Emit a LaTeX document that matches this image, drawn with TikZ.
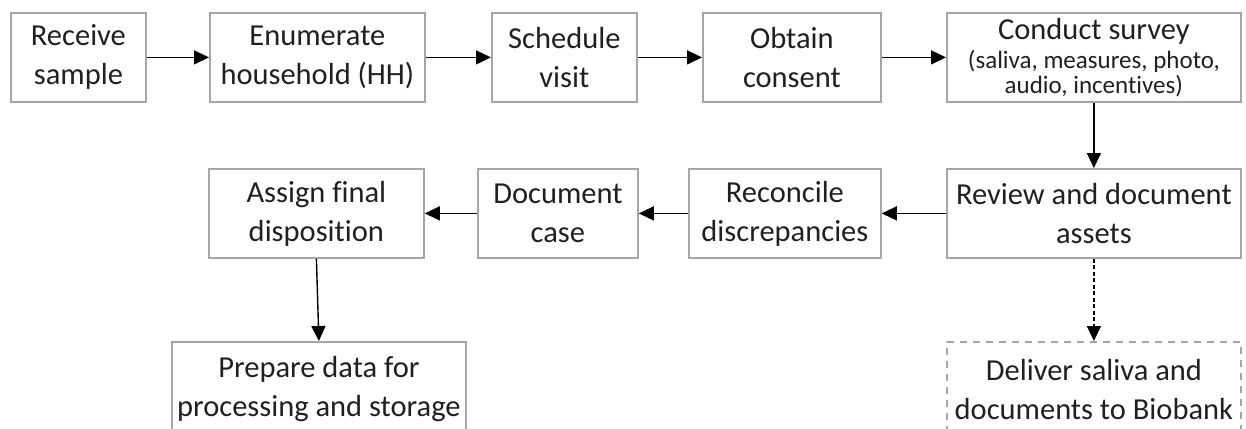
\documentclass[tikz,border=0pt]{standalone}
\usepackage{fontspec}
\setmainfont{Carlito}[RawFeature=-liga]
\usetikzlibrary{arrows.meta}
\definecolor{boxgray}{HTML}{A6A6A6}
\definecolor{txt}{HTML}{202020}
\tikzset{
  x=1pt, y=-1pt,
  procbox/.style={draw=boxgray, line width=1.8pt, rectangle, inner sep=0pt,
    anchor=north west, align=center, text=txt,
    font=\fontsize{30.5}{39}\selectfont},
  dashbox/.style={procbox, dash pattern=on 7pt off 6pt},
  conn/.style={draw=black, line width=1.4pt, -{Triangle[length=15pt,width=14pt]}},
  dashconn/.style={conn, dash pattern=on 4pt off 2.5pt}
}
\begin{document}
\begin{tikzpicture}
\useasboundingbox (0,0) rectangle (1246,428);
\clip (0,0) rectangle (1246,428);
% row 1
\node[procbox, minimum width=135pt, minimum height=89pt] (rec) at (10,12) {Receive\\sample};
\node[procbox, minimum width=215pt, minimum height=89pt] (enu) at (209,12) {Enumerate\\household (HH)};
\node[procbox, minimum width=145pt, minimum height=89pt] (sch) at (491,12) {Schedule\\visit};
\node[procbox, minimum width=178pt, minimum height=89pt] (obt) at (702,12) {Obtain\\consent};
\node[procbox, minimum width=294pt, minimum height=89pt] (con) at (946,12)
  {Conduct survey\\[-10pt]{\fontsize{25}{24}\selectfont (saliva, measures, photo,}\\[-14pt]{\fontsize{25}{24}\selectfont audio, incentives)}};
% row 2
\node[procbox, minimum width=294pt, minimum height=89pt] (rev) at (946,168) {Review and document\\assets};
\node[procbox, minimum width=192pt, minimum height=89pt] (rcn) at (688,168) {Reconcile\\discrepancies};
\node[procbox, minimum width=160pt, minimum height=89pt] (doc) at (477,168) {Document\\case};
\node[procbox, minimum width=215pt, minimum height=89pt] (asg) at (208,168) {Assign final\\disposition};
% row 3
\node[procbox, minimum width=294pt, minimum height=95pt] (prp) at (171,341) {Prepare data for\\processing and storage};
\node[dashbox, minimum width=294pt, minimum height=95pt] (dlv) at (946,341) {Deliver saliva and\\documents to Biobank};
% connectors
\draw[conn] (rec) -- (enu);
\draw[conn] (enu) -- (sch);
\draw[conn] (sch) -- (obt);
\draw[conn] (obt) -- (con);
\draw[conn] (con) -- (rev);
\draw[conn] (rev) -- (rcn);
\draw[conn] (rcn) -- (doc);
\draw[conn] (doc) -- (asg);
\draw[conn] (asg.south) -- (prp.north);
\draw[dashconn] (rev) -- (dlv);
\end{tikzpicture}
\end{document}
